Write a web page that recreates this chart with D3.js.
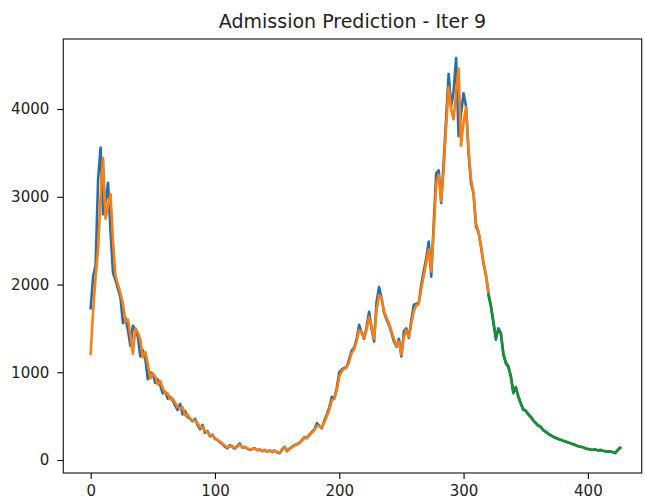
<!DOCTYPE html>
<html>
<head>
<meta charset="utf-8">
<script src="https://cdn.jsdelivr.net/npm/d3@7"></script>
<style>
  html, body { margin: 0; padding: 0; background: #fff; }
  svg { display: block; }
</style>
</head>
<body>
<svg id="chart" width="645" height="502"></svg>
<script>
const chartTitle = "Admission Prediction - Iter 9";
const dayStep = 2;
const actualStart = 0;
const actualValues = [
  1730, 2090, 2220, 3200, 3560, 2800, 2950, 3160, 2600, 2130,
  2050, 1950, 1850, 1560, 1620, 1480, 1300, 1530, 1480, 1400,
  1180, 1250, 1150, 920, 1000, 980, 880, 920, 850, 760,
  780, 700, 720, 680, 620, 570, 640, 520, 560, 490,
  470, 440, 470, 400, 350, 400, 310, 330, 270, 290,
  240, 230, 200, 180, 150, 135, 170, 150, 130, 160,
  190, 140, 150, 130, 115, 125, 135, 110, 120, 100,
  115, 95, 110, 90, 110, 85, 76, 120, 150, 100,
  130, 150, 170, 180, 195, 230, 260, 250, 290, 320,
  350, 420, 390, 360, 450, 520, 600, 720, 700, 820,
  1000, 1030, 1050, 1060, 1150, 1250, 1280, 1380, 1540, 1450,
  1380, 1520, 1690, 1500, 1350, 1800, 1970, 1850, 1680, 1600,
  1540, 1450, 1350, 1290, 1380, 1180, 1470, 1500, 1390, 1600,
  1770, 1780, 1790, 2000, 2160, 2300, 2490, 2090, 2700, 3270,
  3300, 2930, 3400, 3900, 4400, 4030, 4200, 4580, 3690, 3950,
  4180, 4030, 3500, 3150, 3040, 2660, 2600, 2430, 2240, 2100,
  1900, 1750, 1560, 1370, 1500, 1450, 1200, 1100, 1060, 950,
  760, 830, 720, 640, 570, 560, 520, 490, 450, 420,
  390, 380, 340, 320, 300, 280, 265, 250, 240, 230,
  220, 212, 200, 192, 180, 170, 158, 152, 146, 132,
  126, 120, 116, 120, 110, 115, 106, 100, 96, 100,
  90, 78, 115, 140
];
const trainPredStart = 0;
const trainPredValues = [
  1210, 1700, 2090, 2400, 3000, 3440, 2750, 2900, 3030, 2500,
  2100, 2000, 1900, 1780, 1580, 1600, 1420, 1210, 1500, 1450,
  1370, 1170, 1230, 1100, 930, 990, 950, 860, 900, 820,
  760, 760, 690, 700, 650, 600, 590, 600, 510, 520,
  470, 450, 450, 420, 370, 380, 330, 320, 280, 280,
  250, 230, 210, 190, 160, 145, 160, 155, 140, 150,
  175, 150, 145, 135, 120, 125, 130, 115, 118, 105,
  112, 100, 105, 95, 105, 90, 85, 110, 140, 110,
  125, 145, 165, 175, 190, 220, 250, 250, 280, 310,
  340, 390, 390, 370, 430, 500, 570, 680, 700, 790,
  950, 1010, 1040, 1050, 1120, 1220, 1260, 1350, 1480, 1460,
  1390, 1480, 1630, 1520, 1380, 1700, 1880, 1850, 1700, 1620,
  1560, 1470, 1380, 1300, 1350, 1200, 1400, 1480, 1400, 1550,
  1700, 1760, 1780, 1950, 2100, 2250, 2400, 2150, 2600, 3150,
  3250, 2950, 3300, 3800, 4250, 4000, 3880, 4200, 4460, 3580,
  3850, 4020, 3550, 3200, 3050, 2700, 2600, 2450, 2260, 2120,
  1920
];
const testPredStart = 320;
const testPredValues = [
  1880, 1760, 1580, 1400, 1490, 1440, 1220, 1110, 1070, 960,
  780, 830, 730, 650, 580, 565, 525, 495, 455, 425,
  395, 380, 345, 325, 300, 285, 268, 255, 242, 232,
  220, 212, 200, 192, 180, 170, 158, 152, 146, 132,
  126, 120, 116, 120, 110, 115, 106, 100, 96, 100,
  90, 80, 112, 138
];
const xTicks = [0, 100, 200, 300, 400];
const yTicks = [0, 1000, 2000, 3000, 4000];
const seriesColors = ["#1f6fb4", "#ff7f0e", "#1a8f2c"];

(function () {
  const toPoints = (start, vals) => vals.map((v, i) => ({x: start + i * dayStep, y: v}));
  const series = [
    toPoints(actualStart, actualValues),
    toPoints(trainPredStart, trainPredValues),
    toPoints(testPredStart, testPredValues)
  ];

  const svg = d3.select("#chart");
  svg.append("rect").attr("width", 645).attr("height", 502).attr("fill", "#fff");

  const pLeft = 63.3, pRight = 641.7, pTop = 39, pBottom = 473;
  const x = d3.scaleLinear().domain([-22, 443.3]).range([pLeft, pRight]);
  const y = d3.scaleLinear().domain([-148, 4798]).range([pBottom, pTop]);

  const line = d3.line().x(d => x(d.x)).y(d => y(d.y));

  svg.append("clipPath").attr("id", "plotclip").append("rect")
    .attr("x", pLeft).attr("y", pTop).attr("width", pRight - pLeft).attr("height", pBottom - pTop);

  const plot = svg.append("g").attr("clip-path", "url(#plotclip)");
  series.forEach((s, i) => {
    plot.append("path").datum(s)
      .attr("d", line)
      .attr("fill", "none")
      .attr("stroke", seriesColors[i])
      .attr("stroke-width", 2.6)
      .attr("stroke-linejoin", "round")
      .attr("stroke-linecap", "square");
  });

  const fontFamily = "'DejaVu Sans', sans-serif";

  const xAxis = svg.append("g").attr("transform", `translate(0,${pBottom})`)
    .call(d3.axisBottom(x).tickValues(xTicks).tickFormat(d3.format("d")).tickSize(6).tickPadding(6).tickSizeOuter(0));
  const yAxis = svg.append("g").attr("transform", `translate(${pLeft},0)`)
    .call(d3.axisLeft(y).tickValues(yTicks).tickFormat(d3.format("d")).tickSize(6).tickPadding(8).tickSizeOuter(0));
  [xAxis, yAxis].forEach(g => {
    g.select(".domain").remove();
    g.selectAll(".tick line").attr("stroke", "#000").attr("stroke-width", 1.1);
    g.selectAll(".tick text").attr("fill", "#222").style("font-family", fontFamily).style("font-size", "15px");
  });

  svg.append("rect")
    .attr("x", pLeft).attr("y", pTop).attr("width", pRight - pLeft).attr("height", pBottom - pTop)
    .attr("fill", "none").attr("stroke", "#222").attr("stroke-width", 1.2);

  svg.append("text")
    .attr("x", (pLeft + pRight) / 2).attr("y", 28)
    .attr("text-anchor", "middle")
    .style("font-family", fontFamily).style("font-size", "19px").attr("fill", "#222")
    .text(chartTitle);
})();
</script>
</body>
</html>
